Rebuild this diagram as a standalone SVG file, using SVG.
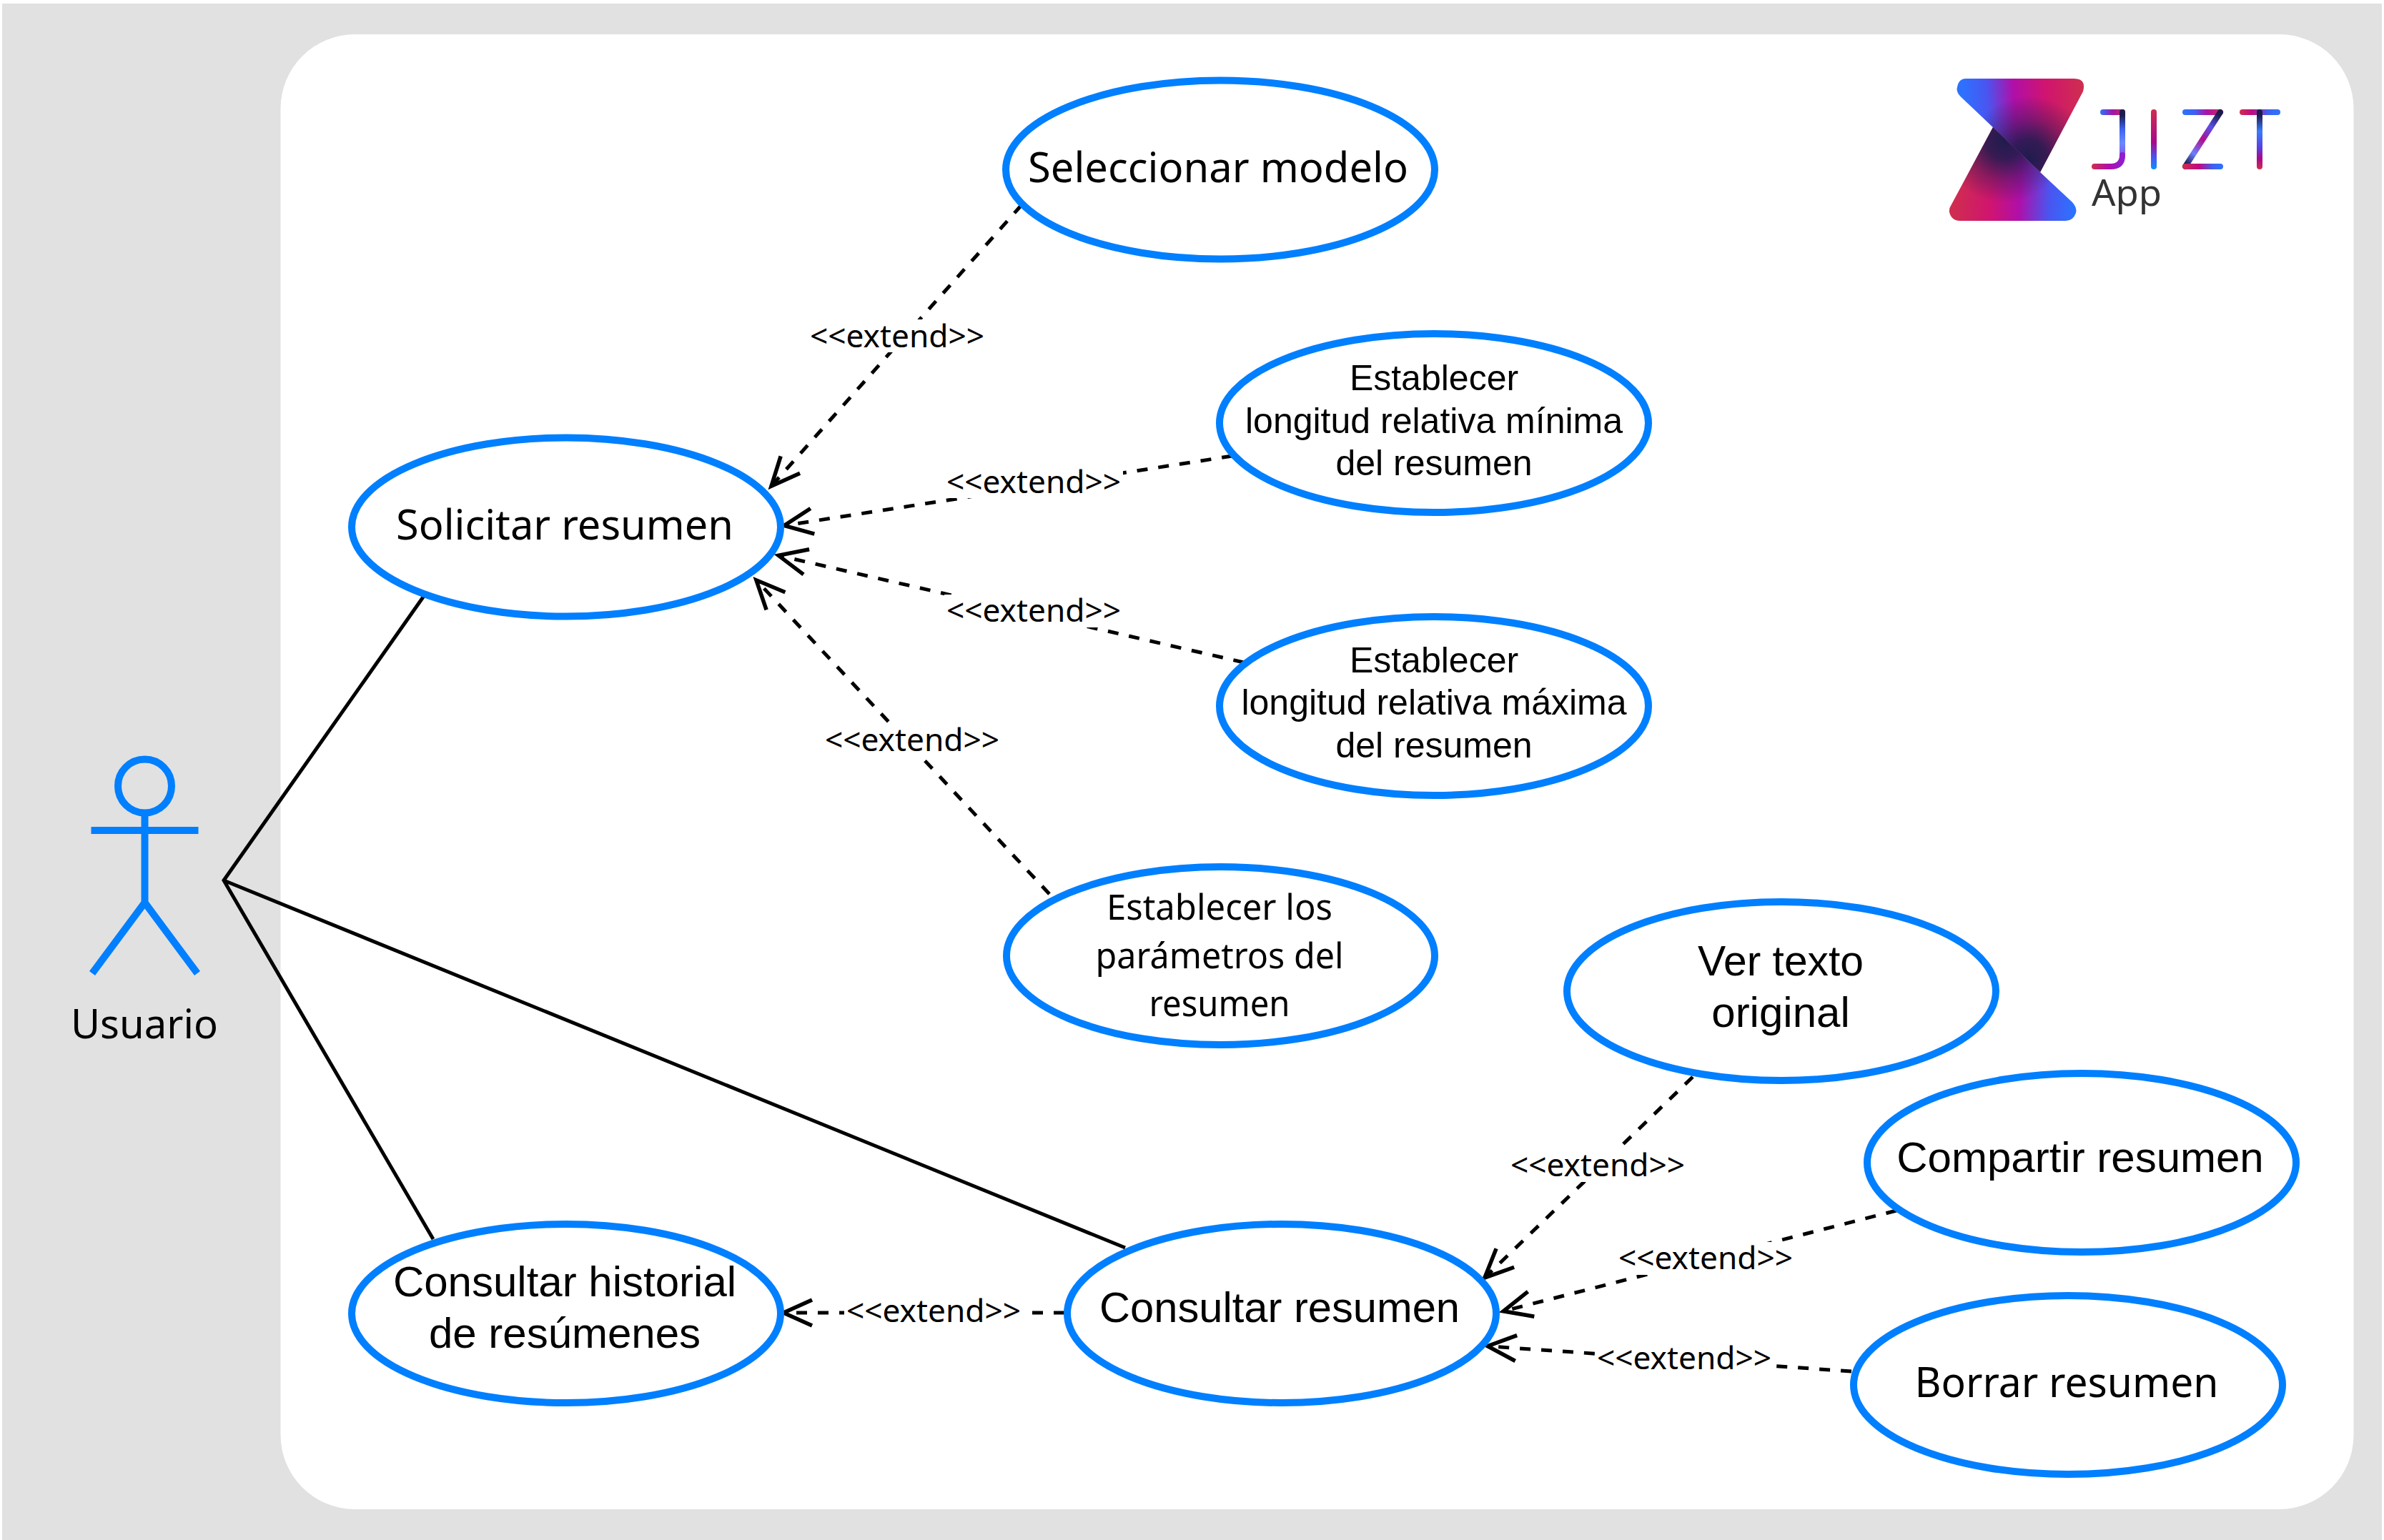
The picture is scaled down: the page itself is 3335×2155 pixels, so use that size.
<svg xmlns="http://www.w3.org/2000/svg" width="3335" height="2155" viewBox="0 0 3335 2155">
<style>
.uc{fill:#fff;stroke:#007fff;stroke-width:10}
.a{font-family:"Liberation Sans",Arial,sans-serif;fill:#000;text-anchor:middle}
.u{font-family:"Noto Sans","Open Sans",sans-serif;fill:#000;text-anchor:middle}
.l{font-family:"Noto Sans","Open Sans",sans-serif;fill:#000;text-anchor:middle;font-size:43px}
.s{stroke:#000;stroke-width:5;fill:none}
.d{stroke:#000;stroke-width:5;fill:none;stroke-dasharray:15 15;marker-end:url(#open)}
.act{stroke:#007fff;stroke-width:10;fill:none}
.lb{fill:#fff}
.lg{fill:none;stroke-width:8;stroke-linecap:round;stroke-linejoin:round}
</style>
<defs>
<marker id="open" markerUnits="userSpaceOnUse" markerWidth="60" markerHeight="60" viewBox="0 0 60 60" refX="47" refY="30" orient="auto"><path d="M10 12L50 30L10 48" fill="none" stroke="#000" stroke-width="5.500"/></marker>
<linearGradient id="lt" gradientUnits="userSpaceOnUse" x1="2745" y1="125" x2="2915" y2="115"><stop offset="0" stop-color="#2d72ff"/><stop offset=".2" stop-color="#4a55f0"/><stop offset=".42" stop-color="#b00fa8"/><stop offset=".68" stop-color="#d01470"/><stop offset="1" stop-color="#cf2e4e"/></linearGradient>
<linearGradient id="lb" gradientUnits="userSpaceOnUse" x1="2730" y1="295" x2="2900" y2="305"><stop offset="0" stop-color="#cf2e4e"/><stop offset=".32" stop-color="#d01470"/><stop offset=".55" stop-color="#b00fa8"/><stop offset=".8" stop-color="#4a55f0"/><stop offset="1" stop-color="#2d72ff"/></linearGradient>
<radialGradient id="dkt" gradientUnits="userSpaceOnUse" cx="2838" cy="222" r="88"><stop offset="0" stop-color="#1c1c4c" stop-opacity=".98"/><stop offset=".3" stop-color="#1c1c4c" stop-opacity=".85"/><stop offset=".62" stop-color="#1c1c4c" stop-opacity=".4"/><stop offset="1" stop-color="#1c1c4c" stop-opacity="0"/></radialGradient>
<radialGradient id="dkb" gradientUnits="userSpaceOnUse" cx="2804" cy="196" r="88"><stop offset="0" stop-color="#1c1c4c" stop-opacity=".98"/><stop offset=".3" stop-color="#1c1c4c" stop-opacity=".85"/><stop offset=".62" stop-color="#1c1c4c" stop-opacity=".4"/><stop offset="1" stop-color="#1c1c4c" stop-opacity="0"/></radialGradient>
<linearGradient id="j1" gradientUnits="userSpaceOnUse" x1="2938" y1="157" x2="2973" y2="157"><stop offset="0" stop-color="#2d72ff"/><stop offset=".5" stop-color="#a015a8"/><stop offset="1" stop-color="#cf2e4e"/></linearGradient>
<linearGradient id="j2" gradientUnits="userSpaceOnUse" x1="2969" y1="161" x2="2969" y2="226"><stop offset="0" stop-color="#1c1c4c"/><stop offset=".3" stop-color="#3d62f0"/><stop offset=".6" stop-color="#6a88ff"/><stop offset="1" stop-color="#8a3ee0"/></linearGradient>
<linearGradient id="j3" gradientUnits="userSpaceOnUse" x1="2926" y1="233" x2="2973" y2="233"><stop offset="0" stop-color="#cf2e4e"/><stop offset=".5" stop-color="#b00fa8"/><stop offset="1" stop-color="#8a20d8"/></linearGradient>
<linearGradient id="i" gradientUnits="userSpaceOnUse" x1="3013" y1="153" x2="3013" y2="237"><stop offset="0" stop-color="#cf2e4e"/><stop offset=".55" stop-color="#a8088c"/><stop offset=".8" stop-color="#4a55f0"/><stop offset="1" stop-color="#0a90ff"/></linearGradient>
<linearGradient id="z1" gradientUnits="userSpaceOnUse" x1="3053" y1="157" x2="3110" y2="157"><stop offset="0" stop-color="#2d72ff"/><stop offset=".3" stop-color="#3d62f0"/><stop offset=".6" stop-color="#b00fa8"/><stop offset="1" stop-color="#cf2e4e"/></linearGradient>
<linearGradient id="z2" gradientUnits="userSpaceOnUse" x1="3105" y1="161" x2="3057" y2="229"><stop offset="0" stop-color="#1c1c4c"/><stop offset=".25" stop-color="#5a50e8"/><stop offset=".5" stop-color="#b00f90"/><stop offset=".78" stop-color="#6a80ff"/><stop offset="1" stop-color="#1c1c4c"/></linearGradient>
<linearGradient id="z3" gradientUnits="userSpaceOnUse" x1="3053" y1="233" x2="3110" y2="233"><stop offset="0" stop-color="#cf2e4e"/><stop offset=".4" stop-color="#c00a80"/><stop offset=".75" stop-color="#3d62f0"/><stop offset="1" stop-color="#2d72ff"/></linearGradient>
<linearGradient id="t1" gradientUnits="userSpaceOnUse" x1="3133" y1="157" x2="3190" y2="157"><stop offset="0" stop-color="#cf2e4e"/><stop offset=".3" stop-color="#c00a80"/><stop offset=".7" stop-color="#3d62f0"/><stop offset="1" stop-color="#2d72ff"/></linearGradient>
<linearGradient id="t2" gradientUnits="userSpaceOnUse" x1="3161" y1="161" x2="3161" y2="237"><stop offset="0" stop-color="#1c1c4c"/><stop offset=".3" stop-color="#3a7cff"/><stop offset=".6" stop-color="#5a40e0"/><stop offset=".8" stop-color="#a8088c"/><stop offset="1" stop-color="#cf2e4e"/></linearGradient>
</defs>
<rect width="3335" height="2155" fill="#fff"/>
<rect id="background" x="3" y="5" width="3329" height="2150" fill="#e1e1e1"/>
<rect id="boundary" x="392.500" y="48" width="2900" height="2064" rx="104" fill="#fff"/>
<g id="connectors">
<path class="s" d="M593 834L313 1232L606 1734M313 1232L1574 1746"/>
<path class="d" d="M1429 287L1081 678"/>
<path class="d" d="M1724 638L1100 735"/>
<path class="d" d="M1740 927L1092 778"/>
<path class="d" d="M1468 1251L1060 814"/>
<path class="d" d="M2368 1507L2079 1786"/>
<path class="d" d="M2653 1694L2106 1834"/>
<path class="d" d="M2590 1919L2084 1884"/>
<path class="d" d="M1489 1837L1099 1837"/>
<g>
<rect class="lb" x="1130" y="447" width="250" height="46"/><text class="l" x="1255" y="486" textLength="244" lengthAdjust="spacingAndGlyphs">&lt;&lt;extend&gt;&gt;</text>
<rect class="lb" x="1321" y="651" width="250" height="46"/><text class="l" x="1446" y="690" textLength="244" lengthAdjust="spacingAndGlyphs">&lt;&lt;extend&gt;&gt;</text>
<rect class="lb" x="1321" y="832" width="250" height="46"/><text class="l" x="1446" y="870" textLength="244" lengthAdjust="spacingAndGlyphs">&lt;&lt;extend&gt;&gt;</text>
<rect class="lb" x="1151" y="1013" width="250" height="46"/><text class="l" x="1276" y="1051" textLength="244" lengthAdjust="spacingAndGlyphs">&lt;&lt;extend&gt;&gt;</text>
<rect class="lb" x="2110" y="1608" width="250" height="46"/><text class="l" x="2235" y="1646" textLength="244" lengthAdjust="spacingAndGlyphs">&lt;&lt;extend&gt;&gt;</text>
<rect class="lb" x="2261" y="1738" width="250" height="46"/><text class="l" x="2386" y="1776" textLength="244" lengthAdjust="spacingAndGlyphs">&lt;&lt;extend&gt;&gt;</text>
<rect class="lb" x="2231" y="1876" width="250" height="46"/><text class="l" x="2356" y="1916" textLength="244" lengthAdjust="spacingAndGlyphs">&lt;&lt;extend&gt;&gt;</text>
<rect class="lb" x="1181" y="1812" width="250" height="46"/><text class="l" x="1306" y="1850" textLength="244" lengthAdjust="spacingAndGlyphs">&lt;&lt;extend&gt;&gt;</text>
</g>
</g>
<g id="actor">
<circle class="act" cx="202.500" cy="1100" r="37.500"/>
<path class="act" d="M202.500 1141V1262M127.500 1162H277.500M129 1362L202.500 1263L276 1362"/>
<text class="u" x="202" y="1453" font-size="56" textLength="206" lengthAdjust="spacingAndGlyphs">Usuario</text>
</g>
<g id="seleccionar-modelo"><ellipse class="uc" cx="1707" cy="237.500" rx="300" ry="125"/><text class="u" x="1704" y="255" font-size="58" textLength="532" lengthAdjust="spacingAndGlyphs">Seleccionar modelo</text></g>
<g id="solicitar-resumen"><ellipse class="uc" cx="792" cy="737.500" rx="300" ry="125"/><text class="u" x="790" y="755" font-size="58" textLength="472" lengthAdjust="spacingAndGlyphs">Solicitar resumen</text></g>
<g id="longitud-minima"><ellipse class="uc" cx="2006" cy="592" rx="300" ry="125"/><text class="a" font-size="50"><tspan x="2006" y="546">Establecer</tspan><tspan x="2006" y="606">longitud relativa mínima</tspan><tspan x="2006" y="665">del resumen</tspan></text></g>
<g id="longitud-maxima"><ellipse class="uc" cx="2006" cy="988" rx="300" ry="125"/><text class="a" font-size="50"><tspan x="2006" y="941">Establecer</tspan><tspan x="2006" y="1000">longitud relativa máxima</tspan><tspan x="2006" y="1060">del resumen</tspan></text></g>
<g id="parametros"><ellipse class="uc" cx="1707.500" cy="1337.500" rx="299.500" ry="124.500"/>
<text class="u" x="1706" y="1287" font-size="49" textLength="316" lengthAdjust="spacingAndGlyphs">Establecer los</text>
<text class="u" x="1706" y="1355" font-size="49" textLength="347" lengthAdjust="spacingAndGlyphs">parámetros del</text>
<text class="u" x="1706" y="1422" font-size="49" textLength="197" lengthAdjust="spacingAndGlyphs">resumen</text></g>
<g id="ver-texto"><ellipse class="uc" cx="2492" cy="1387" rx="300" ry="125"/><text class="a" font-size="60" x="2491" y="1365" textLength="232" lengthAdjust="spacingAndGlyphs">Ver texto</text><text class="a" font-size="60" x="2491" y="1437">original</text></g>
<g id="compartir"><ellipse class="uc" cx="2912" cy="1627" rx="300" ry="125"/><text class="a" x="2910" y="1640" font-size="60">Compartir resumen</text></g>
<g id="borrar"><ellipse class="uc" cx="2893" cy="1938" rx="300" ry="125"/><text class="u" x="2891" y="1955" font-size="58" textLength="425" lengthAdjust="spacingAndGlyphs">Borrar resumen</text></g>
<g id="consultar-resumen"><ellipse class="uc" cx="1793" cy="1838" rx="300" ry="125"/><text class="a" x="1790" y="1850" font-size="60" textLength="504" lengthAdjust="spacingAndGlyphs">Consultar resumen</text></g>
<g id="consultar-historial"><ellipse class="uc" cx="792" cy="1838" rx="300" ry="125"/><text class="a" font-size="60"><tspan x="790" y="1814">Consultar historial</tspan><tspan x="790" y="1886">de resúmenes</tspan></text></g>
<g id="logo">
<path fill="url(#lt)" d="M2750 110H2901Q2919 110 2914 128L2854 241L2742.500 135Q2736 128 2738 122Q2740 110 2750 110Z"/>
<path fill="url(#dkt)" d="M2750 110H2901Q2919 110 2914 128L2854 241L2742.500 135Q2736 128 2738 122Q2740 110 2750 110Z"/>
<path fill="url(#lb)" d="M2788 178L2854 241L2899 283Q2906 291 2904 298Q2900 309 2890 309H2742Q2730 309 2727 297Q2726 292 2730 286Z"/>
<path fill="url(#dkb)" d="M2788 178L2854 241L2899 283Q2906 291 2904 298Q2900 309 2890 309H2742Q2730 309 2727 297Q2726 292 2730 286Z"/>
<path class="lg" stroke="url(#j1)" d="M2942 157H2969"/>
<path class="lg" stroke="url(#j2)" d="M2969 157V218"/>
<path class="lg" stroke="url(#j3)" d="M2930 233H2953Q2969 233 2969 217"/>
<path class="lg" stroke="url(#i)" d="M3013 157V233"/>
<path class="lg" stroke="url(#z1)" d="M3057 157H3106"/>
<path class="lg" stroke="url(#z2)" d="M3106 157L3057 233"/>
<path class="lg" stroke="url(#z3)" d="M3057 233H3106"/>
<path class="lg" stroke="url(#t1)" d="M3137 157H3186"/>
<path class="lg" stroke="url(#t2)" d="M3161 157V233"/>
<text x="2926" y="288" font-family="Noto Sans,Open Sans,sans-serif" font-size="51" fill="#333" textLength="98" lengthAdjust="spacingAndGlyphs">App</text>
</g>
</svg>
